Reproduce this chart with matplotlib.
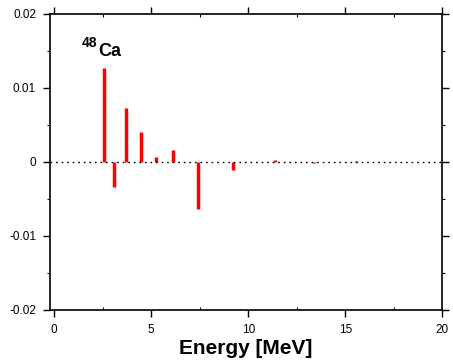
import matplotlib.pyplot as plt
from matplotlib.ticker import MultipleLocator, FuncFormatter

plt.rcParams['font.family'] = ['Liberation Sans', 'DejaVu Sans']

# Line positions (MeV) and strengths
energy = [2.54, 3.06, 3.68, 4.47, 5.24, 6.10, 7.42, 9.19, 11.37, 13.40, 15.57]
strength = [0.0126, -0.0034, 0.0072, 0.0040, 0.0006, 0.0016, -0.0064,
            -0.00105, 0.0003, -0.0002, 0.00008]

x_ticks = [0, 5, 10, 15, 20]
y_ticks = [-0.02, -0.01, 0, 0.01, 0.02]

fig = plt.figure(figsize=(4.53, 3.6), dpi=100)
ax = fig.add_axes([0.1104, 0.139, 0.8660, 0.8235])

ax.vlines(energy, 0, strength, colors='red', linewidth=2.5)
ax.axhline(0, color='black', linestyle=(0, (1.2, 2.8)), linewidth=1.0)

ax.set_xlim(-0.22, 20)
ax.set_ylim(-0.02, 0.02)
ax.set_xticks(x_ticks)
ax.set_yticks(y_ticks)
ax.xaxis.set_minor_locator(MultipleLocator(2.5))
ax.yaxis.set_minor_locator(MultipleLocator(0.005))


def fmt(v, pos):
    if abs(v) < 1e-12:
        return '0'
    return ('%g' % v)


ax.yaxis.set_major_formatter(FuncFormatter(fmt))

ax.tick_params(which='major', direction='out', length=5, width=1.0,
               labelsize=8.5, top=True, right=True, colors='black')
ax.tick_params(which='minor', direction='in', length=2.2, width=0.8,
               top=True, right=True)
ax.tick_params(axis='y', which='minor', direction='out', length=2.2)
ax.tick_params(axis='x', which='major', pad=5)
ax.tick_params(axis='y', which='major', pad=5)

for s in ax.spines.values():
    s.set_linewidth(1.2)

fig.text(0.543, 0.017, 'Energy [MeV]', fontsize=15, fontweight='bold',
         ha='center', va='baseline')

# isotope label
ax.text(0.1198, 0.887, '48', transform=ax.transAxes, fontsize=10,
        fontweight='bold', ha='right', va='baseline')
ax.text(0.1224, 0.858, 'Ca', transform=ax.transAxes, fontsize=13,
        fontweight='bold', ha='left', va='baseline')

fig.savefig('out.png', dpi=100)
